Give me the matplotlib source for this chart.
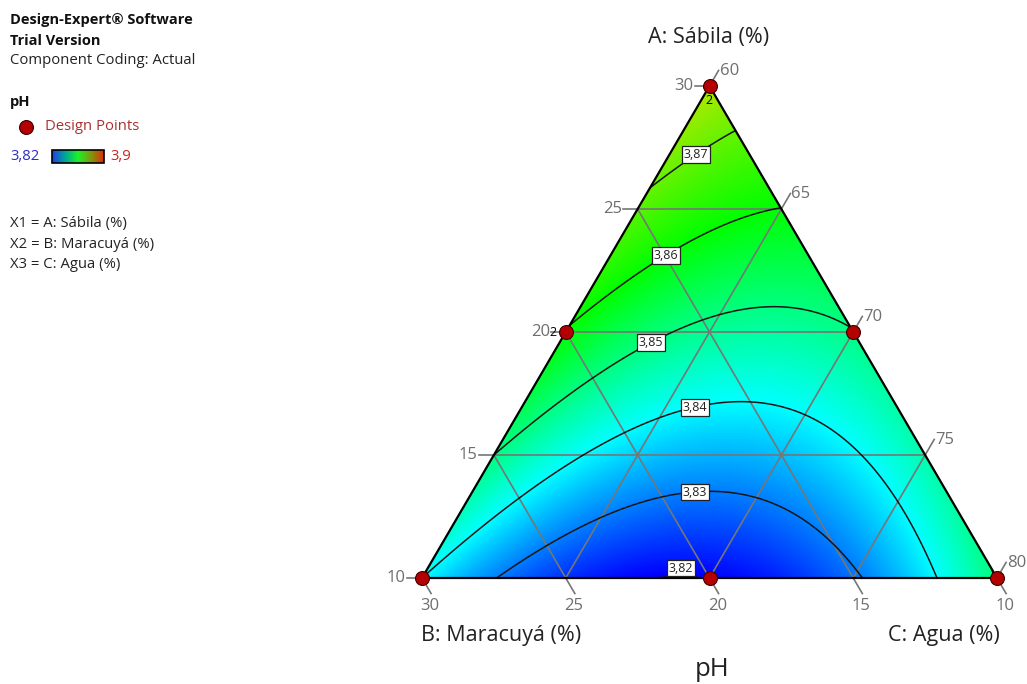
import numpy as np
import matplotlib
matplotlib.use('Agg')
import matplotlib.pyplot as plt
from matplotlib.colors import LinearSegmentedColormap
from matplotlib.patches import Polygon

# ---------------- data ----------------
# Scheffé quadratic model of pH in pseudo-components
coef_A, coef_B, coef_C = 3.877, 3.840, 3.8505
coef_AB, coef_AC, coef_BC = 0.004, -0.056, -0.1006
contour_levels = [3.82, 3.83, 3.84, 3.85, 3.86, 3.87]
label_x = [681, 695, 695, 651, 666, 696]          # label positions (px)

design_A = [30, 20, 20, 10, 10, 10]
design_B = [10, 20, 10, 30, 20, 10]
design_C = [60, 60, 70, 60, 70, 80]
design_rep = [2, 2, 1, 1, 1, 1]

A_ticks = [10, 15, 20, 25, 30]
B_ticks = [30, 25, 20, 15, 10]
C_ticks = [60, 65, 70, 75, 80]
grid_A = [15, 20, 25]
grid_B = [15, 20, 25]
grid_C = [65, 70, 75]
cbar_min, cbar_max = 3.82, 3.9

# ---------------- layout ----------------
X_BL, W, Y_BOT, H = 422.0, 575.0, 578.0, 492.0
FONT = ['Open Sans', 'DejaVu Sans']
plt.rcParams['font.family'] = FONT


def pseudo(A, B, C):
    return (np.asarray(A) - 10) / 20.0, (np.asarray(B) - 10) / 20.0, (np.asarray(C) - 60) / 20.0


def txy(A, B, C):
    a, b, c = pseudo(A, B, C)
    return X_BL + W * (c + a / 2.0), Y_BOT - H * a


def model(a, b, c):
    return (coef_A * a + coef_B * b + coef_C * c + coef_AB * a * b
            + coef_AC * a * c + coef_BC * b * c)


def model_px(x, y):
    a = (Y_BOT - y) / H
    c = (x - X_BL) / W - a / 2.0
    b = 1 - a - c
    return model(a, b, c)


cmap = LinearSegmentedColormap.from_list('de', [
    (0.0, (0.0, 0.0, 1.0)),
    (0.25, (0.0, 1.0, 1.0)),
    (0.5, (0.0, 1.0, 0.0)),
    (0.75, (0.80, 0.90, 0.0)),
    (1.0, (0.86, 0.12, 0.0)),
])
cmap_legend = LinearSegmentedColormap.from_list('de_leg', [
    (0.0, (0.12, 0.25, 0.90)),
    (0.25, (0.0, 0.65, 0.60)),
    (0.5, (0.10, 0.95, 0.15)),
    (0.75, (0.50, 0.60, 0.05)),
    (1.0, (0.88, 0.18, 0.02)),
])

fig = plt.figure(figsize=(10.27, 6.84), dpi=100)
ax = fig.add_axes([0, 0, 1, 1])
ax.set_xlim(0, 1027)
ax.set_ylim(684, 0)
ax.axis('off')

vx = [txy(30, 10, 60), txy(10, 30, 60), txy(10, 10, 80)]
tri = Polygon(vx, closed=True, facecolor='none', edgecolor='black', lw=1.6, zorder=5)
ax.add_patch(tri)
clip = Polygon(vx, closed=True, transform=ax.transData)

# filled surface
xs = np.linspace(X_BL, X_BL + W, 600)
ys = np.linspace(Y_BOT - H, Y_BOT, 520)
XX, YY = np.meshgrid(xs, ys)
ZZ = model_px(XX, YY)
im = ax.imshow(ZZ, extent=(X_BL, X_BL + W, Y_BOT, Y_BOT - H), origin='upper',
               cmap=cmap, vmin=cbar_min, vmax=cbar_max, interpolation='bilinear',
               aspect='auto', zorder=1)
im.set_clip_path(clip)

# contours
cs = ax.contour(XX, YY, ZZ, levels=contour_levels, colors='#151515', linewidths=1.1, zorder=3)
cs.set_clip_path(clip)

# grid lines
gcol = '#767676'
for A in grid_A:
    p1 = txy(A, 40 - A, 60); p2 = txy(A, 10, 90 - A)
    ax.plot([p1[0], p2[0]], [p1[1], p2[1]], color=gcol, lw=1.2, zorder=2)
for B in grid_B:
    p1 = txy(10, B, 90 - B); p2 = txy(40 - B, B, 60)
    ax.plot([p1[0], p2[0]], [p1[1], p2[1]], color=gcol, lw=1.2, zorder=2)
for C in grid_C:
    p1 = txy(10, 90 - C, C); p2 = txy(90 - C, 10, C)
    ax.plot([p1[0], p2[0]], [p1[1], p2[1]], color=gcol, lw=1.2, zorder=2)

# ticks
tcol = '#6e6e6e'
tfs = 12
for A in A_ticks:
    x, y = txy(A, 40 - A, 60)
    ax.plot([x - 15, x], [y, y], color=gcol, lw=1.2, zorder=2)
    ax.text(x - 16, y, str(A), ha='right', va='center', fontsize=tfs, color=tcol)
dv = np.array([288.0, 492.0]); dv /= np.linalg.norm(dv)
for B in B_ticks:
    x, y = txy(10, B, 90 - B)
    ex, ey = x + 18 * dv[0], y + 18 * dv[1]
    ax.plot([x, ex], [y, ey], color=gcol, lw=1.2, zorder=2)
    ax.text(ex - 1, ey + 12, str(B), ha='center', va='center', fontsize=tfs, color=tcol)
du = np.array([287.0, -492.0]); du /= np.linalg.norm(du)
for C in C_ticks:
    x, y = txy(90 - C, 10, C)
    ex, ey = x + 18 * du[0], y + 18 * du[1]
    ax.plot([x, ex], [y, ey], color=gcol, lw=1.2, zorder=2)
    ax.text(ex + 1, ey + 1, str(C), ha='left', va='center', fontsize=tfs, color=tcol)

# contour labels
for lev, lx in zip(contour_levels, label_x):
    yy = np.linspace(Y_BOT, Y_BOT - H, 3000)
    ff = model_px(np.full_like(yy, lx), yy) - lev
    idx = np.where(np.sign(ff[:-1]) != np.sign(ff[1:]))[0]
    ly = yy[idx[0]] if len(idx) else Y_BOT
    ly = min(ly, Y_BOT - 10)
    ax.text(lx, ly, ('%.2f' % lev).replace('.', ','), ha='center', va='center',
            fontsize=9, color='#222222', zorder=6,
            bbox=dict(boxstyle='square,pad=0.15', facecolor='white', edgecolor='#222222', lw=0.9))

# design points
px, py = txy(design_A, design_B, design_C)
ax.scatter(px, py, s=100, facecolor='#b40000', edgecolor='#3a0000', lw=0.8, zorder=8)
rep_off = {0: (0, 14), 1: (-13, 0)}
for i, r in enumerate(design_rep):
    if r > 1:
        dx, dy = rep_off.get(i, (0, 14))
        ax.text(px[i] + dx, py[i] + dy, str(r), ha='center', va='center', fontsize=9,
                color='black', zorder=9)

# axis titles
ax.text(709, 37, 'A: Sábila (%)', ha='center', va='center', fontsize=15.5, color='#222222')
ax.text(501, 635, 'B: Maracuyá (%)', ha='center', va='center', fontsize=15.5, color='#222222')
ax.text(944, 635, 'C: Agua (%)', ha='center', va='center', fontsize=15.5, color='#222222')
ax.text(712, 669, 'pH', ha='center', va='center', fontsize=18.5, color='#222222')

# left info panel
lfs = 10.7
ax.text(10, 20, 'Design-Expert® Software', ha='left', va='center', fontsize=lfs - 0.2, fontweight='bold', color='#111111')
ax.text(10, 41, 'Trial Version', ha='left', va='center', fontsize=lfs - 0.2, fontweight='bold', color='#111111')
ax.text(10, 61, 'Component Coding: Actual', ha='left', va='center', fontsize=lfs, color='#222222')
ax.text(10, 102, 'pH', ha='left', va='center', fontsize=lfs - 0.2, fontweight='bold', color='#111111')
ax.scatter([26], [127], s=100, facecolor='#b40000', edgecolor='#3a0000', lw=0.8, zorder=8)
ax.text(45, 127, 'Design Points', ha='left', va='center', fontsize=lfs, color='#a83232')
grad = np.linspace(cbar_min, cbar_max, 200).reshape(1, -1)
ax.imshow(grad, extent=(52, 104, 163, 150), cmap=cmap_legend, vmin=cbar_min, vmax=cbar_max,
          aspect='auto', zorder=4)
ax.add_patch(plt.Rectangle((52, 150), 52, 13, facecolor='none', edgecolor='black', lw=1.2, zorder=5))
ax.text(10, 157, ('%.2f' % cbar_min).replace('.', ','), ha='left', va='center', fontsize=lfs, color='#2a2ad0')
ax.text(110, 157, ('%.1f' % cbar_max).replace('.', ','), ha='left', va='center', fontsize=lfs, color='#d02020')
ax.text(10, 224, 'X1 = A: Sábila (%)', ha='left', va='center', fontsize=lfs, color='#222222')
ax.text(10, 244, 'X2 = B: Maracuyá (%)', ha='left', va='center', fontsize=lfs, color='#222222')
ax.text(10, 265, 'X3 = C: Agua (%)', ha='left', va='center', fontsize=lfs, color='#222222')

fig.savefig('out.png', dpi=100)
